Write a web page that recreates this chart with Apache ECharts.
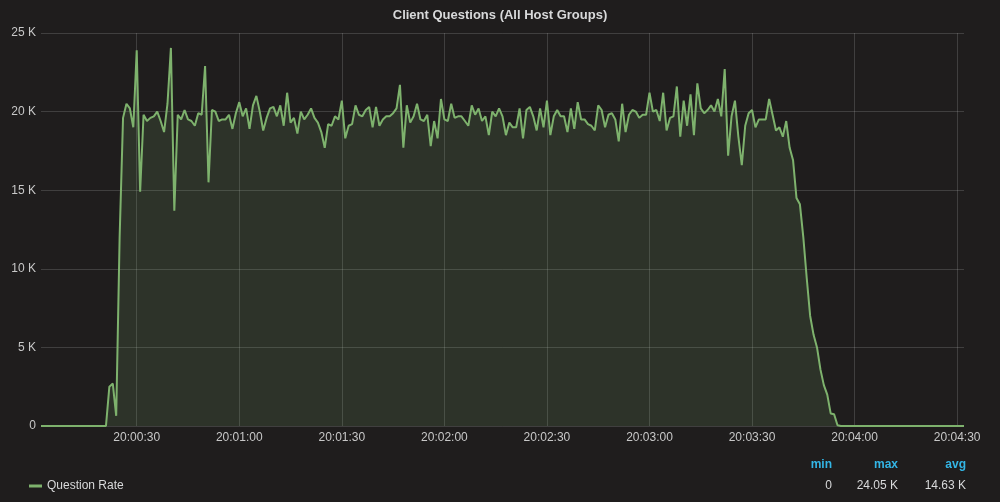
<!DOCTYPE html>
<html>
<head>
<meta charset="utf-8">
<script src="https://cdn.jsdelivr.net/npm/echarts@6/dist/echarts.min.js"></script>
<style>
  html, body { margin: 0; padding: 0; background: #1f1d1d; }
  #chart { width: 1000px; height: 502px; }
</style>
</head>
<body>
<div id="chart"></div>
<script>
// ---- data (values in thousands of questions / s), one sample per second ----
const TITLE = 'Client Questions (All Host Groups)';
const SERIES_NAME = 'Question Rate';
const FIRST_SECOND = 2;   // first sample at 20:00:02
const LAST_SECOND = 272;  // range end 20:04:32
const questionRate = [
  /* 02-09 */ 0, 0, 0, 0, 0, 0, 0, 0,
  /* 10-19 */ 0, 0, 0, 0, 0, 0, 0, 0, 0, 0,
  /* 20-29 */ 0, 0, 2.5, 2.7, 0.65, 12.0, 19.6, 20.5, 20.2, 19.0,
  /* 30-39 */ 23.9, 14.9, 19.8, 19.4, 19.6, 19.7, 20.0, 19.4, 18.7, 20.5,
  /* 40-49 */ 24.05, 13.7, 19.8, 19.5, 20.1, 19.5, 19.4, 19.1, 19.9, 19.8,
  /* 50-59 */ 22.9, 15.5, 20.1, 20.0, 19.4, 19.5, 19.5, 19.8, 18.9, 19.9,
  /* 60-69 */ 20.6, 19.7, 20.2, 18.9, 20.4, 21.0, 20.0, 18.8, 19.6, 20.2,
  /* 70-79 */ 20.3, 19.7, 20.4, 19.1, 21.2, 19.3, 19.6, 18.6, 20.0, 19.5,
  /* 80-89 */ 19.8, 20.2, 19.6, 19.3, 18.7, 17.7, 19.2, 19.1, 19.7, 19.5,
  /* 90-99 */ 20.7, 18.3, 19.1, 19.2, 20.4, 19.8, 19.7, 20.1, 20.3, 19.0,
  /* 100-109 */ 20.3, 19.1, 19.5, 19.7, 19.7, 19.9, 20.2, 21.7, 17.7, 20.4,
  /* 110-119 */ 19.3, 19.7, 20.5, 19.5, 19.4, 19.8, 17.8, 19.4, 18.3, 20.8,
  /* 120-129 */ 19.5, 19.4, 20.5, 19.6, 19.7, 19.7, 19.4, 19.1, 20.4, 19.8,
  /* 130-139 */ 20.2, 19.4, 19.7, 18.5, 20.0, 19.7, 20.2, 19.7, 18.5, 19.3,
  /* 140-149 */ 19.0, 19.0, 20.2, 18.3, 20.1, 20.3, 19.7, 18.8, 20.2, 19.0,
  /* 150-159 */ 20.7, 18.5, 19.7, 20.1, 19.7, 19.7, 18.7, 20.2, 18.9, 20.6,
  /* 160-169 */ 19.5, 19.5, 19.2, 19.1, 18.8, 20.4, 20.1, 19.0, 19.8, 19.9,
  /* 170-179 */ 19.5, 18.1, 20.5, 18.7, 19.8, 20.1, 20.0, 19.6, 19.8, 19.8,
  /* 180-189 */ 21.2, 20.0, 20.1, 19.4, 21.2, 18.8, 19.6, 19.7, 21.6, 18.4,
  /* 190-199 */ 20.7, 19.1, 21.1, 18.5, 21.8, 20.2, 19.9, 20.1, 20.4, 20.0,
  /* 200-209 */ 20.8, 19.7, 22.7, 17.2, 19.7, 20.7, 18.4, 16.6, 19.1, 19.9,
  /* 210-219 */ 20.1, 19.0, 19.5, 19.5, 19.5, 20.8, 19.8, 18.8, 19.0, 18.4,
  /* 220-229 */ 19.4, 17.7, 16.9, 14.5, 14.1, 12.0, 9.4, 7.0, 5.8, 5.0,
  /* 230-239 */ 3.6, 2.6, 2.0, 0.8, 0.75, 0.05, 0, 0, 0, 0,
  /* 240-249 */ 0, 0, 0, 0, 0, 0, 0, 0, 0, 0,
  /* 250-259 */ 0, 0, 0, 0, 0, 0, 0, 0, 0, 0,
  /* 260-269 */ 0, 0, 0, 0, 0, 0, 0, 0, 0, 0,
  /* 270-272 */ 0, 0, 0
];
const xTickSeconds = [30, 60, 90, 120, 150, 180, 210, 240, 270];
const yTicks = [0, 5, 10, 15, 20, 25];
const statHeaders = ['min', 'max', 'avg'];
const statValues = ['0', '24.05 K', '14.63 K'];

// ---- chart ----
const FONT = '"Liberation Sans", Arial, Helvetica, sans-serif';
const GRID_COLOR = 'rgba(200,200,200,0.2)';
const LINE_COLOR = '#7eb26d';

function fmtTime(sec) {
  const m = Math.floor(sec / 60), s = sec % 60;
  return '20:' + String(m).padStart(2, '0') + ':' + String(s).padStart(2, '0');
}

const seriesData = questionRate.map((v, i) => [FIRST_SECOND + i, v]);

const chart = echarts.init(document.getElementById('chart'), null, { renderer: 'canvas' });

const statRight = [832, 898, 966];
const graphics = [];
statHeaders.forEach((h, i) => {
  graphics.push({
    type: 'text', right: 1000 - statRight[i], top: 459,
    style: { text: h, fill: '#33b5e5', font: 'bold 12px ' + FONT, textAlign: 'right' }
  });
  graphics.push({
    type: 'text', right: 1000 - statRight[i], top: 480,
    style: { text: statValues[i], fill: '#d8d9da', font: '12px ' + FONT, textAlign: 'right' }
  });
});

chart.setOption({
  backgroundColor: '#1f1d1d',
  animation: false,
  title: {
    text: TITLE, left: 'center', top: 4,
    textStyle: { color: '#d8d9da', fontFamily: FONT, fontSize: 13, fontWeight: 'bold' }
  },
  grid: { left: 41, right: 36, top: 33, bottom: 76, containLabel: false },
  legend: {
    left: 24, top: 475, icon: 'rect', itemWidth: 13, itemHeight: 3,
    textStyle: { color: '#d8d9da', fontFamily: FONT, fontSize: 12 },
    data: [SERIES_NAME]
  },
  xAxis: {
    type: 'value', min: FIRST_SECOND, max: LAST_SECOND,
    axisLine: { show: false },
    axisTick: { show: false, customValues: xTickSeconds },
    axisLabel: {
      customValues: xTickSeconds, formatter: v => fmtTime(v),
      color: '#c8c8c8', fontFamily: FONT, fontSize: 12, margin: 6,
      showMinLabel: true, showMaxLabel: true
    },
    splitLine: { show: true, lineStyle: { color: GRID_COLOR, width: 1 } }
  },
  yAxis: {
    type: 'value', min: yTicks[0], max: yTicks[yTicks.length - 1], interval: 5,
    axisLine: { show: false }, axisTick: { show: false },
    axisLabel: {
      formatter: v => v === 0 ? '0' : v + ' K',
      color: '#c8c8c8', fontFamily: FONT, fontSize: 12, margin: 5
    },
    splitLine: { show: true, lineStyle: { color: GRID_COLOR, width: 1 } }
  },
  series: [{
    name: SERIES_NAME, type: 'line', data: seriesData,
    showSymbol: false, symbol: 'none',
    lineStyle: { color: LINE_COLOR, width: 2 },
    itemStyle: { color: LINE_COLOR },
    areaStyle: { color: 'rgba(126,178,109,0.22)' }
  }],
  graphic: graphics
});
</script>
</body>
</html>
